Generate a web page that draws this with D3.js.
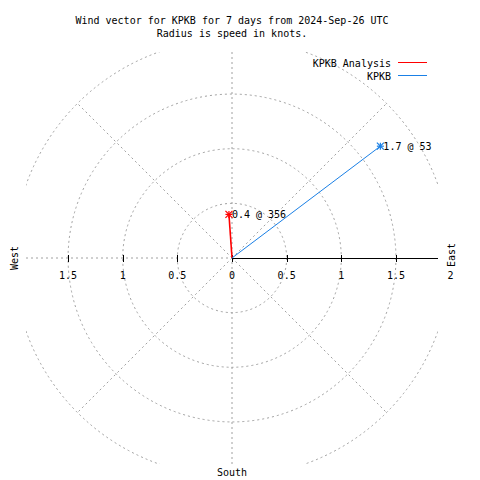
<!DOCTYPE html>
<html><head><meta charset="utf-8">
<script src="https://cdn.jsdelivr.net/npm/d3@7"></script>
<style>
body{margin:0;background:#fff;}
text{font-family:"DejaVu Sans Mono",monospace;font-size:10px;fill:#000;}
</style></head>
<body><svg id="c" width="480" height="480"></svg>
<script>
// ---- data ----
const seriesNames = ["KPKB Analysis", "KPKB"];
const speeds = [0.4, 1.7];          // knots
const directions = [356, 53];       // degrees, compass
const seriesColors = ["#ff0000", "#1a80e6"];
const gridRadii = [0.5, 1, 1.5, 2];
const spokeAngles = [45, 135, 225, 315];
const westTicks = [0.5, 1, 1.5];
const eastTicks = [0, 0.5, 1, 1.5];
const titleLines = ["Wind vector for KPKB for 7 days from 2024-Sep-26 UTC", "Radius is speed in knots."];

const svg = d3.select("#c");
const cx = 232, cy = 258;
const rMax = 1.885;
const r = d3.scaleLinear().domain([0, rMax]).range([0, 206]);
const x = d3.scaleLinear().domain([-rMax, rMax]).range([cx - 206, cx + 206]);
const y = d3.scaleLinear().domain([-rMax, rMax]).range([cy + 206, cy - 206]);

svg.append("defs").append("clipPath").attr("id", "pa")
  .append("rect").attr("x", x(-rMax)).attr("y", y(rMax))
  .attr("width", x(rMax) - x(-rMax)).attr("height", y(-rMax) - y(rMax));

const grid = svg.append("g").attr("clip-path", "url(#pa)")
  .attr("fill", "none").attr("stroke", "#a0a0a0").attr("stroke-width", 1)
  .attr("stroke-dasharray", "2,3");
grid.selectAll("circle").data(gridRadii).join("circle")
  .attr("cx", cx).attr("cy", cy).attr("r", d => r(d));
grid.selectAll("line.sp").data(spokeAngles).join("line").attr("class", "sp")
  .attr("x1", cx).attr("y1", cy)
  .attr("x2", d => cx + r(2) * Math.sin(d * Math.PI / 180))
  .attr("y2", d => cy - r(2) * Math.cos(d * Math.PI / 180));
grid.append("line").attr("x1", x(-rMax)).attr("x2", cx).attr("y1", cy).attr("y2", cy);
grid.append("line").attr("x1", cx).attr("x2", cx).attr("y1", y(rMax)).attr("y2", y(-rMax));

// east solid axis
svg.append("line").attr("x1", cx).attr("x2", x(rMax)).attr("y1", cy + 0.5).attr("y2", cy + 0.5)
  .attr("stroke", "#000").attr("stroke-width", 1.2);
// ticks
const tk = svg.append("g").attr("stroke", "#000").attr("stroke-width", 1);
tk.selectAll("line.e").data(eastTicks).join("line").attr("class", "e")
  .attr("x1", d => Math.round(x(d)) + 0.5).attr("x2", d => Math.round(x(d)) + 0.5)
  .attr("y1", cy - 3).attr("y2", cy + 4);
tk.selectAll("line.w").data(westTicks).join("line").attr("class", "w")
  .attr("x1", d => Math.round(x(-d)) + 0.5).attr("x2", d => Math.round(x(-d)) + 0.5)
  .attr("y1", cy - 3).attr("y2", cy + 4);

// tick labels
const fmt = d => String(d);
svg.selectAll("text.wl").data(westTicks).join("text").attr("class", "wl")
  .attr("x", d => x(-d)).attr("y", cy + 21).attr("text-anchor", "middle").text(fmt);
svg.selectAll("text.el").data(eastTicks).join("text").attr("class", "el")
  .attr("x", d => x(d)).attr("y", cy + 21).attr("text-anchor", "middle").text(fmt);
svg.append("text").attr("x", x(2)).attr("y", cy + 21).attr("text-anchor", "middle").text("2");

// direction labels
svg.append("text").attr("transform", `translate(${cx - 214},${cy}) rotate(-90)`)
  .attr("text-anchor", "middle").text("West");
svg.append("text").attr("transform", `translate(${x(rMax) + 17},${cy - 3}) rotate(-90)`)
  .attr("text-anchor", "middle").text("East");
svg.append("text").attr("x", cx).attr("y", 476).attr("text-anchor", "middle").text("South");

// title
svg.selectAll("text.t").data(titleLines).join("text").attr("class", "t")
  .attr("x", 232).attr("y", (d, i) => 24 + i * 13).attr("text-anchor", "middle").text(d => d);

// vectors
const pts = speeds.map((s, i) => ({
  s, d: directions[i], c: seriesColors[i],
  px: cx + r(s) * Math.sin(directions[i] * Math.PI / 180),
  py: cy - r(s) * Math.cos(directions[i] * Math.PI / 180)
}));
const vg = svg.append("g");
pts.forEach((p, i) => {
  vg.append("line").attr("x1", cx).attr("y1", cy).attr("x2", p.px).attr("y2", p.py)
    .attr("stroke", p.c).attr("stroke-width", i === 0 ? 1.6 : 1);
  const m = 3.5;
  const star = vg.append("g").attr("stroke", p.c).attr("stroke-width", 1.2);
  [[-m, 0, m, 0], [0, -m, 0, m], [-m, -m, m, m], [-m, m, m, -m]].forEach(a =>
    star.append("line").attr("x1", p.px + a[0]).attr("y1", p.py + a[1])
      .attr("x2", p.px + a[2]).attr("y2", p.py + a[3]));
  vg.append("text").attr("x", p.px + 3).attr("y", p.py + 4)
    .text(`${p.s} @ ${p.d}`);
});

// legend
const lg = svg.append("g");
seriesNames.forEach((n, i) => {
  lg.append("text").attr("x", 391).attr("y", 67 + i * 13).attr("text-anchor", "end").text(n);
  lg.append("line").attr("x1", 398).attr("x2", 427).attr("y1", 62.5 + i * 13).attr("y2", 62.5 + i * 13)
    .attr("stroke", seriesColors[i]).attr("stroke-width", 1);
});
</script></body></html>
